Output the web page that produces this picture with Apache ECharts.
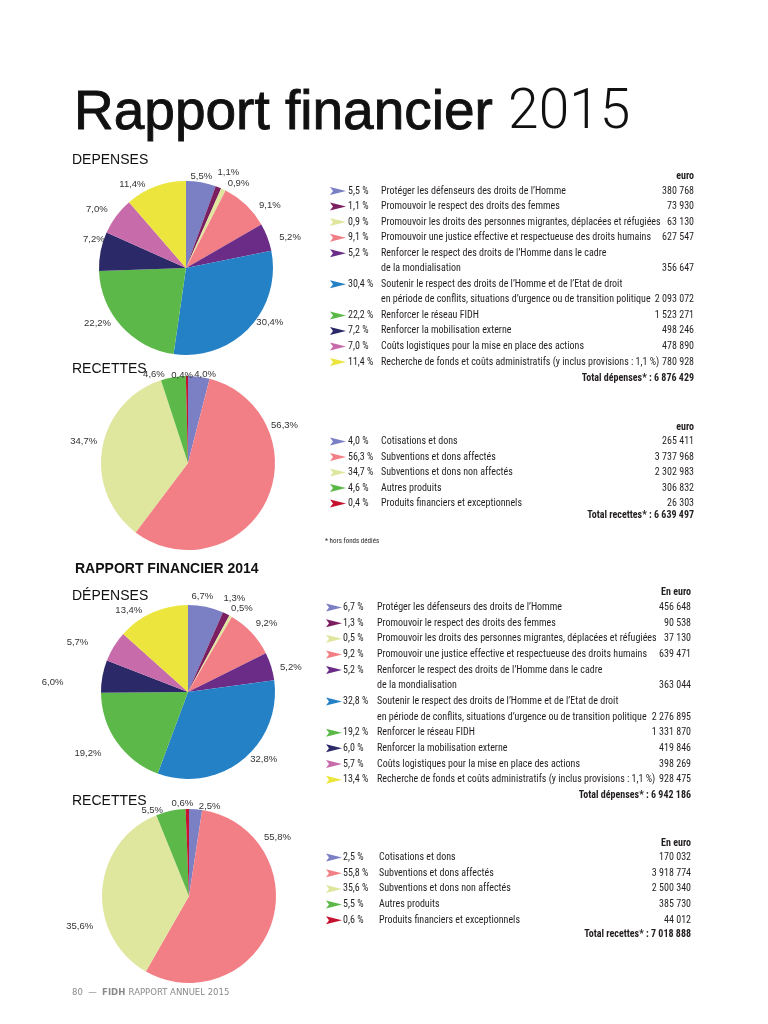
<!DOCTYPE html>
<html><head><meta charset="utf-8">
<script src="https://cdn.jsdelivr.net/npm/echarts@6/dist/echarts.min.js"></script>
<style>html,body{margin:0;padding:0;background:#fff}#c{width:768px;height:1024px}</style>
</head><body><div id="c"></div>
<script>
// ---------- DATA ----------
const depCategories = [
  "Protéger les défenseurs des droits de l’Homme",
  "Promouvoir le respect des droits des femmes",
  "Promouvoir les droits des personnes migrantes, déplacées et réfugiées",
  "Promouvoir une justice effective et respectueuse des droits humains",
  "Renforcer le respect des droits de l’Homme dans le cadre\nde la mondialisation",
  "Soutenir le respect des droits de l’Homme et de l’Etat de droit\nen période de conflits, situations d’urgence ou de transition politique",
  "Renforcer le réseau FIDH",
  "Renforcer la mobilisation externe",
  "Coûts logistiques pour la mise en place des actions",
  "Recherche de fonds et coûts administratifs (y inclus provisions : 1,1 %)"
];
const recCategories = [
  "Cotisations et dons",
  "Subventions et dons affectés",
  "Subventions et dons non affectés",
  "Autres produits",
  "Produits financiers et exceptionnels"
];
const dep2015Pct = [5.5, 1.1, 0.9, 9.1, 5.2, 30.4, 22.2, 7.2, 7.0, 11.4];
const dep2015Euro = [380768, 73930, 63130, 627547, 356647, 2093072, 1523271, 498246, 478890, 780928];
const dep2015Total = 6876429;
const rec2015Pct = [4.0, 56.3, 34.7, 4.6, 0.4];
const rec2015Euro = [265411, 3737968, 2302983, 306832, 26303];
const rec2015Total = 6639497;
const dep2014Pct = [6.7, 1.3, 0.5, 9.2, 5.2, 32.8, 19.2, 6.0, 5.7, 13.4];
const dep2014Euro = [456648, 90538, 37130, 639471, 363044, 2276895, 1331870, 419846, 398269, 928475];
const dep2014Total = 6942186;
const rec2014Pct = [2.5, 55.8, 35.6, 5.5, 0.6];
const rec2014Euro = [170032, 3918774, 2500340, 385730, 44012];
const rec2014Total = 7018888;

// ---------- STYLE ----------
const depColors = ['#7b7fc3','#7c1f60','#e0e69e','#f27f86','#6a2c87','#2581c5','#5cb848','#2c2968','#c76bab','#ebe53d'];
const recColors = ['#7b7fc3','#f27f86','#dfe69e','#5cb848','#c5122f'];
const NARROW = '"Liberation Sans Narrow","Arial Narrow","Roboto Condensed","DejaVu Sans Condensed",sans-serif';
const SANS = '"Liberation Sans",Arial,Helvetica,sans-serif';
const INK = '#231f20';
const R = 87;
// label nudges (pixel offsets of the percentage labels, layout only)
const nudgeDep2015 = [[-14,-3],[-5,-12],[0,-3],[8,3],[6,1],[2,-7],[-5,-5],[10,-11],[-3,-5],[-6,1]];
const nudgeRec2015 = [[-8,1],[-1,-77],[1,-7],[-5,0],[9,2]];
const nudgeDep2014 = [[-18,-8],[-7,-13],[-4,-5],[-1,-7],[3,2],[3,-3],[-10,10],[-33,6],[-20,-3],[-6,1]];
const nudgeRec2014 = [[0,0],[-13,-88],[-3,36],[-4,2],[9,-3]];

function fmtPct(p){ return p.toFixed(1).replace('.', ','); }
function fmtEuro(n){ return String(n).replace(/\B(?=(\d{3})+(?!\d))/g, ' '); }

function pieSeries(name, cats, vals, pcts, colors, center, nudge) {
  return {
    type: 'pie', name, center, radius: R, startAngle: 90, clockwise: true,
    avoidLabelOverlap: false, silent: true, animation: false,
    data: cats.map((c, i) => ({ name: c.replace('\n', ' '), value: vals[i], itemStyle: { color: colors[i] } })),
    label: { show: true, position: 'outside', formatter: p => fmtPct(pcts[p.dataIndex]) + '%',
      fontSize: 9.5, color: '#333', fontFamily: SANS, distanceToLabelLine: 3 },
    labelLine: { show: false, length: 3, length2: 0 },
    labelLayout: p => ({ dx: (nudge[p.dataIndex] || [0,0])[0], dy: (nudge[p.dataIndex] || [0,0])[1] }),
    emphasis: { disabled: true }
  };
}

function txt(x, y, text, font, align, color) {
  return { type: 'text', x, y, silent: true,
    style: { text, font, fill: color || INK, align: align || 'left', textAlign: align || 'left',
      verticalAlign: 'middle', textVerticalAlign: 'middle' } };
}

function table(cfg) {
  const els = [];
  const f = '10px ' + NARROW, fb = 'bold 10px ' + NARROW;
  els.push(txt(cfg.valX, cfg.headerY, cfg.header, fb, 'right'));
  let y = cfg.firstY;
  cfg.cats.forEach((c, i) => {
    const ax = cfg.arrowX;
    els.push({ type: 'polygon', silent: true, shape: { points: [[ax, y - 4], [ax + 16, y], [ax, y + 4], [ax + 3, y]] },
      style: { fill: cfg.colors[i] } });
    els.push(txt(cfg.pctX, y, fmtPct(cfg.pcts[i]) + ' %', f));
    const lines = c.split('\n');
    lines.forEach((ln, k) => els.push(txt(cfg.descX, y + k * cfg.lineH, ln, f)));
    const lastY = y + (lines.length - 1) * cfg.lineH;
    els.push(txt(cfg.valX, lastY, fmtEuro(cfg.vals[i]), f, 'right'));
    y = lastY + cfg.lineH;
  });
  els.push(txt(cfg.valX, y + cfg.totalGap, cfg.totalLabel + fmtEuro(cfg.total), fb, 'right'));
  return els;
}

const graphics = [].concat(
  [{ type: 'text', x: 74, y: 114, silent: true, style: {
      text: '{a|Rapport financier }{b|2015}', verticalAlign: 'middle', textVerticalAlign: 'middle',
      rich: { a: { font: '55px ' + SANS, fill: '#111', stroke: '#111', lineWidth: 0.9 },
              b: { font: '300 55px Roboto,' + SANS, fill: '#111' } } } }],
  [txt(72, 160, 'DEPENSES', '14px ' + SANS, 'left', '#111'),
   txt(72, 369, 'RECETTES', '14px ' + SANS, 'left', '#111'),
   txt(75, 569, 'RAPPORT FINANCIER 2014', 'bold 14px ' + SANS, 'left', '#111'),
   txt(72, 596, 'DÉPENSES', '14px ' + SANS, 'left', '#111'),
   txt(72, 801, 'RECETTES', '14px ' + SANS, 'left', '#111'),
   txt(325, 541, '* hors fonds dédiés', '7px ' + NARROW),
   { type: 'text', x: 72, y: 993, silent: true, style: {
      text: '{n|80  —  }{b|FIDH} {n|RAPPORT ANNUEL 2015}', verticalAlign: 'middle', textVerticalAlign: 'middle',
      rich: { n: { font: '8.5px "DejaVu Sans",sans-serif', fill: '#8a8a8a' }, b: { font: 'bold 8.5px "DejaVu Sans",sans-serif', fill: '#8a8a8a' } } } }
  ],
  table({ cats: depCategories, pcts: dep2015Pct, vals: dep2015Euro, colors: depColors, header: 'euro', headerY: 176,
    firstY: 191, lineH: 15.55, arrowX: 330, pctX: 348, descX: 381, valX: 694, totalLabel: 'Total dépenses* : ', total: dep2015Total, totalGap: 0.5 }),
  table({ cats: recCategories, pcts: rec2015Pct, vals: rec2015Euro, colors: recColors, header: 'euro', headerY: 427,
    firstY: 441.5, lineH: 15.5, arrowX: 330, pctX: 348, descX: 381, valX: 694, totalLabel: 'Total recettes* : ', total: rec2015Total, totalGap: -3.5 }),
  table({ cats: depCategories, pcts: dep2014Pct, vals: dep2014Euro, colors: depColors, header: 'En euro', headerY: 592,
    firstY: 607.5, lineH: 15.65, arrowX: 326, pctX: 343, descX: 377, valX: 691, totalLabel: 'Total dépenses* : ', total: dep2014Total, totalGap: 0.5 }),
  table({ cats: recCategories, pcts: rec2014Pct, vals: rec2014Euro, colors: recColors, header: 'En euro', headerY: 843,
    firstY: 857.5, lineH: 15.7, arrowX: 326, pctX: 343, descX: 379, valX: 691, totalLabel: 'Total recettes* : ', total: rec2014Total, totalGap: -1.5 })
);

const chart = echarts.init(document.getElementById('c'), null, { renderer: 'canvas' });
chart.setOption({
  backgroundColor: '#fff',
  animation: false,
  series: [
    pieSeries('Dépenses 2015', depCategories, dep2015Euro, dep2015Pct, depColors, [186, 268], nudgeDep2015),
    pieSeries('Recettes 2015', recCategories, rec2015Euro, rec2015Pct, recColors, [188, 463], nudgeRec2015),
    pieSeries('Dépenses 2014', depCategories, dep2014Euro, dep2014Pct, depColors, [188, 692], nudgeDep2014),
    pieSeries('Recettes 2014', recCategories, rec2014Euro, rec2014Pct, recColors, [189, 896], nudgeRec2014)
  ],
  graphic: { elements: graphics }
});
</script></body></html>
